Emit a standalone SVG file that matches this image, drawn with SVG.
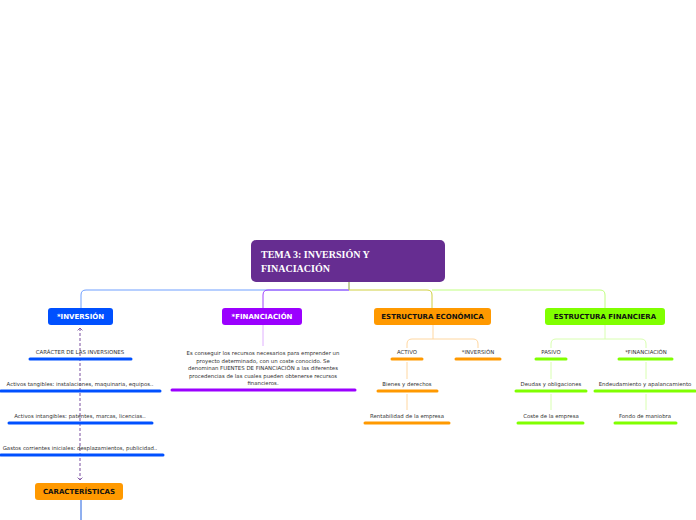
<svg xmlns="http://www.w3.org/2000/svg" width="696" height="520" viewBox="0 0 696 520">
<defs>
<style>
.t{font-family:"DejaVu Sans",Verdana,sans-serif;font-size:5.4px;fill:#333;text-anchor:middle}
.h{font-family:"DejaVu Sans",Verdana,sans-serif;font-size:7px;font-weight:bold;text-anchor:middle}
.u{stroke-width:3;stroke-linecap:round}
.c{fill:none;stroke-width:1}
</style>
<marker id="a" viewBox="0 0 10 10" refX="5" refY="5" markerWidth="6" markerHeight="6" orient="auto-start-reverse"><path d="M1,1 L5,5 L1,9" fill="none" stroke="#7a4fa0" stroke-width="1.5"/></marker>
</defs>
<rect width="696" height="520" fill="#fff"/>
<g id="connectors">
<path class="c" d="M349,282 V290 H86 Q81,290 81,295 V308" stroke="#6f9fff"/>
<path class="c" d="M349,290 H268 Q263,290 263,295 V308" stroke="#a040ff"/>
<path class="c" d="M349,282 V290 H427 Q432,290 432,295 V308" stroke="#d0d040"/>
<path class="c" d="M432,290 H600 Q605,290 605,295 V308" stroke="#c0ff80"/>
<path class="c" d="M263,325 V346" stroke="#e0b0ff"/>
<path class="c" d="M81,500 V520" stroke="#2060e0"/>
<path class="c" d="M80,328 V480" stroke="#7a4fa0" stroke-dasharray="3,2" marker-start="url(#a)" marker-end="url(#a)"/>
<path class="c" d="M433,325 V339 M412,339 H473 Q478,339 478,344 V348 M412,339 Q407,339 407,344 V348 M407,362 V379 M407,394 V410" stroke="#ffd7a0"/>
<path class="c" d="M605,325 V339 M556,339 H641 Q646,339 646,344 V348 M556,339 Q551,339 551,344 V348 M551,362 V379 M551,394 V410 M646,362 V379 M646,394 V410" stroke="#d8ffb0"/>
</g>
<g id="root"><rect x="251" y="240" width="194" height="42" rx="5" fill="#662d91"/>
<text x="261" y="258" font-family="'Liberation Serif',serif" font-weight="bold" font-size="10" fill="#fff">TEMA 3: INVERSIÓN Y</text>
<text x="261" y="272" font-family="'Liberation Serif',serif" font-weight="bold" font-size="10" fill="#fff">FINACIACIÓN</text></g>
<g id="n-inversion"><rect x="48" y="308" width="65" height="17" rx="3" fill="#0050ff"/><text class="h" x="80.5" y="319" fill="#fff">*INVERSIÓN</text></g>
<g id="n-financiacion"><rect x="222" y="308" width="80" height="17" rx="3" fill="#9b00ff"/><text class="h" x="262" y="319" fill="#fff">*FINANCIACIÓN</text></g>
<g id="n-econ"><rect x="374" y="308" width="117" height="17" rx="3" fill="#ff9900"/><text class="h" x="432.5" y="319" fill="#111">ESTRUCTURA ECONÓMICA</text></g>
<g id="n-fin"><rect x="545" y="308" width="120" height="17" rx="3" fill="#80ff00"/><text class="h" x="605" y="319" fill="#111">ESTRUCTURA FINANCIERA</text></g>
<g id="n-caract"><rect x="35" y="483" width="88" height="17" rx="3" fill="#ff9900"/><text class="h" x="79" y="494" fill="#111">CARACTERÍSTICAS</text></g>
<g id="inv-items" stroke="#0050ff">
<text class="t" x="80" y="354" stroke="none">CARÁCTER DE LAS INVERSIONES</text><line class="u" x1="30" y1="359" x2="131" y2="359"/>
<text class="t" x="80" y="386" stroke="none">Activos tangibles: instalaciones, maquinaria, equipos..</text><line class="u" x1="1" y1="391" x2="160" y2="391"/>
<text class="t" x="80" y="418" stroke="none">Activos intangibles: patentes, marcas, licencias..</text><line class="u" x1="9" y1="423" x2="152" y2="423"/>
<text class="t" x="80" y="450" stroke="none">Gastos corrientes iniciales: desplazamientos, publicidad..</text><line class="u" x1="1" y1="455" x2="163" y2="455"/>
</g>
<g id="fin-text" stroke="#9b00ff">
<text class="t" x="263" y="355" stroke="none">Es conseguir los recursos necesarios para emprender un</text>
<text class="t" x="263" y="362.5" stroke="none">proyecto determinado, con un coste conocido. Se</text>
<text class="t" x="263" y="370" stroke="none">denominan FUENTES DE FINANCIACIÓN a las diferentes</text>
<text class="t" x="263" y="377.5" stroke="none">procedencias de las cuales pueden obtenerse recursos</text>
<text class="t" x="263" y="385" stroke="none">financieros.</text>
<line class="u" x1="172" y1="390" x2="355" y2="390"/>
</g>
<g id="econ-items" stroke="#ff9900">
<text class="t" x="407" y="354" stroke="none">ACTIVO</text><line class="u" x1="392" y1="359" x2="422" y2="359"/>
<text class="t" x="478" y="354" stroke="none">*INVERSIÓN</text><line class="u" x1="456" y1="359" x2="500" y2="359"/>
<text class="t" x="407" y="386" stroke="none">Bienes y derechos</text><line class="u" x1="378" y1="391" x2="437" y2="391"/>
<text class="t" x="407" y="418" stroke="none">Rentabilidad de la empresa</text><line class="u" x1="365" y1="423" x2="449" y2="423"/>
</g>
<g id="finst-items" stroke="#80ff00">
<text class="t" x="551" y="354" stroke="none">PASIVO</text><line class="u" x1="536" y1="359" x2="566" y2="359"/>
<text class="t" x="646" y="354" stroke="none">*FINANCIACIÓN</text><line class="u" x1="619" y1="359" x2="672" y2="359"/>
<text class="t" x="551" y="386" stroke="none">Deudas y obligaciones</text><line class="u" x1="516" y1="391" x2="586" y2="391"/>
<text class="t" x="645" y="386" stroke="none">Endeudamiento y apalancamiento</text><line class="u" x1="595" y1="391" x2="695" y2="391"/>
<text class="t" x="551" y="418" stroke="none">Coste de la empresa</text><line class="u" x1="518" y1="423" x2="583" y2="423"/>
<text class="t" x="645" y="418" stroke="none">Fondo de maniobra</text><line class="u" x1="615" y1="423" x2="676" y2="423"/>
</g>
</svg>
